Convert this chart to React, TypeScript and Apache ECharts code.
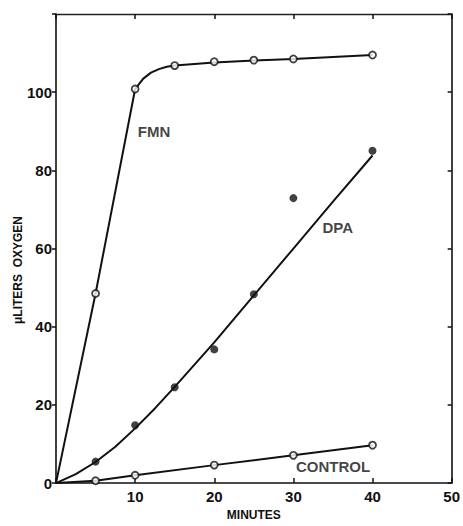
import React, { useEffect, useRef } from "react";
import * as echarts from "echarts";

// Observed points (minutes, µliters O2)
const fmnPoints: number[][] = [[5, 48.5], [10, 100.8], [15, 106.8], [20, 107.8], [25, 108.2], [30, 108.5], [40, 109.5]];
const dpaPoints: number[][] = [[5, 5.5], [10, 14.8], [15, 24.5], [20, 34.2], [25, 48.3], [30, 72.9], [40, 85]];
const controlPoints: number[][] = [[5, 0.6], [10, 2], [20, 4.6], [30, 7.1], [40, 9.7]];

// Drawn curves
const fmnCurve: number[][] = [[0, 0], [5, 48.5], [10, 100.8], [11, 103.4], [12, 105], [13, 105.9], [14, 106.5], [15, 106.8], [20, 107.6], [25, 108.1], [30, 108.5], [40, 109.5]];
const dpaCurve: number[][] = [[0, 0], [2.5, 2.3], [5, 5.4], [7.5, 9.3], [10, 14], [12.5, 19.1], [15, 24.6], [20, 36], [25, 48], [30, 60], [35, 72], [40, 83.8]];
const controlCurve: number[][] = [[0, 0], [5, 0.6], [10, 2], [20, 4.6], [30, 7.1], [40, 9.7]];

// Curve labels
const curveLabels: { name: string; value: number[] }[] = [
  { name: "FMN", value: [12.4, 90] },
  { name: "DPA", value: [35.6, 65.3] },
  { name: "CONTROL", value: [35, 4.3] },
];

const xTicks = [0, 10, 20, 30, 40, 50];
const yTicks = [0, 20, 40, 60, 80, 100, 120];
const xTitle = "MINUTES";
const yTitle = "\u03BCLITERS  OXYGEN";

const FONT = "'Liberation Sans', Arial, sans-serif";

export default function App() {
  const ref = useRef<HTMLDivElement>(null);
  useEffect(() => {
    if (!ref.current) return;
    const chart = echarts.init(ref.current, null, { renderer: "svg" });
    const axisLine = { show: true, onZero: false, lineStyle: { color: "#111", width: 1.6 } };
    const tickStyle = { color: "#111", width: 1.5 };
    const lineSeries = (data: number[][]) => ({
      type: "line",
      data,
      xAxisIndex: 0,
      yAxisIndex: 0,
      showSymbol: false,
      symbol: "none",
      lineStyle: { color: "#111", width: 2 },
      z: 2,
    });
    const scatterSeries = (data: number[][], filled: boolean) => ({
      type: "scatter",
      data,
      xAxisIndex: 0,
      yAxisIndex: 0,
      symbol: "circle",
      symbolSize: filled ? 8 : 7,
      itemStyle: filled
        ? { color: "#111", borderColor: "#111", borderWidth: 0 }
        : { color: "#fff", borderColor: "#111", borderWidth: 1.8 },
      z: 3,
    });
    chart.setOption({
      animation: false,
      backgroundColor: "#fff",
      grid: { left: 56, right: 3, top: 14, bottom: 35, containLabel: false },
      xAxis: [
        {
          type: "value",
          position: "bottom",
          min: xTicks[0],
          max: xTicks[xTicks.length - 1],
          interval: 10,
          name: xTitle,
          nameLocation: "middle",
          nameGap: 24,
          nameTextStyle: { fontFamily: FONT, fontWeight: "bold", fontSize: 12, color: "#111" },
          axisLine,
          axisTick: { show: true, inside: true, length: 5, lineStyle: tickStyle },
          axisLabel: {
            fontFamily: FONT,
            fontWeight: "bold",
            fontSize: 15,
            color: "#111",
            margin: 6,
            formatter: (v: number) => (v === 0 ? "" : String(v)),
          },
          splitLine: { show: false },
        },
        {
          type: "value",
          position: "top",
          min: xTicks[0],
          max: xTicks[xTicks.length - 1],
          interval: 10,
          axisLine: { ...axisLine, lineStyle: { color: "#222", width: 1.3 } },
          axisTick: { show: true, inside: true, length: 5, lineStyle: tickStyle },
          axisLabel: { show: false },
          splitLine: { show: false },
        },
      ],
      yAxis: [
        {
          type: "value",
          position: "left",
          min: yTicks[0],
          max: yTicks[yTicks.length - 1],
          interval: 20,
          axisLine,
          axisTick: { show: true, inside: false, length: 4, lineStyle: tickStyle },
          axisLabel: {
            fontFamily: FONT,
            fontWeight: "bold",
            fontSize: 15,
            color: "#111",
            margin: 4,
            formatter: (v: number) => (v === 120 ? "" : String(v)),
          },
          splitLine: { show: false },
        },
        {
          type: "value",
          position: "right",
          min: yTicks[0],
          max: yTicks[yTicks.length - 1],
          interval: 20,
          axisLine,
          axisTick: { show: true, inside: true, length: 4, lineStyle: tickStyle },
          axisLabel: { show: false },
          splitLine: { show: false },
        },
      ],
      graphic: [
        {
          type: "text",
          x: 18,
          y: 270,
          rotation: Math.PI / 2,
          style: {
            text: yTitle,
            fontFamily: FONT,
            fontWeight: "bold",
            fontSize: 12,
            fill: "#111",
            textAlign: "center",
            textVerticalAlign: "middle",
          },
        },
      ],
      series: [
        lineSeries(fmnCurve),
        lineSeries(dpaCurve),
        lineSeries(controlCurve),
        scatterSeries(fmnPoints, false),
        scatterSeries(dpaPoints, true),
        scatterSeries(controlPoints, false),
        {
          type: "scatter",
          data: curveLabels,
          symbolSize: 0,
          label: {
            show: true,
            position: "inside",
            formatter: (p: any) => p.name,
            fontFamily: FONT,
            fontWeight: "bold",
            fontSize: 15,
            color: "#111",
          },
          z: 4,
        },
      ],
    });
    return () => chart.dispose();
  }, []);
  return <div ref={ref} style={{ position: "fixed", left: 0, top: 0, width: 463, height: 526 }} />;
}
